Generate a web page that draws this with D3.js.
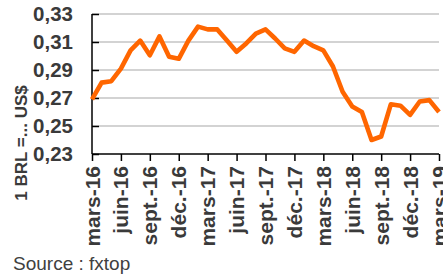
<!DOCTYPE html>
<html><head><meta charset="utf-8">
<script src="https://cdn.jsdelivr.net/npm/d3@7"></script>
<style>body{margin:0;background:#fff}svg{display:block}</style>
</head><body>
<svg id="c" width="443" height="276"></svg>
<script>
const months = ["mars-16","avr.-16","mai-16","juin-16","juil.-16","août-16","sept.-16","oct.-16","nov.-16","déc.-16","janv.-17","févr.-17",
"mars-17","avr.-17","mai-17","juin-17","juil.-17","août-17","sept.-17","oct.-17","nov.-17","déc.-17","janv.-18","févr.-18",
"mars-18","avr.-18","mai-18","juin-18","juil.-18","août-18","sept.-18","oct.-18","nov.-18","déc.-18","janv.-19","févr.-19","mars-19"];
const rate = [0.269,0.281,0.282,0.291,0.304,0.311,0.3005,0.314,0.2995,0.298,0.311,0.321,
0.319,0.319,0.311,0.303,0.309,0.316,0.319,0.3125,0.3055,0.303,0.311,0.307,
0.304,0.2925,0.2745,0.264,0.260,0.240,0.2425,0.2655,0.2645,0.258,0.2675,0.2685,0.260];
const yTicks = [0.23,0.25,0.27,0.29,0.31,0.33];
const shownLabels = months.filter((d,i)=>i%3===0);

const svg = d3.select("#c");
const L=92, R=439, T=14, B=154;
const x = d3.scalePoint().domain(months).range([L,R]);
const y = d3.scaleLinear().domain([0.23,0.33]).range([B,T]);
const txt="#3a3a3a";
const fmt = d=>d3.format(".2f")(d).replace(".",",");

// gridlines
svg.append("g").selectAll("line").data(yTicks.slice(1)).join("line")
  .attr("x1",L).attr("x2",R).attr("y1",d=>y(d)).attr("y2",d=>y(d))
  .attr("stroke","#c4c4c4").attr("stroke-width",1.6);

// y axis
const ya = svg.append("g").attr("transform",`translate(${L},0)`)
  .call(d3.axisRight(y).tickValues(yTicks).tickSize(7).tickFormat(""));
ya.select(".domain").remove();
ya.selectAll("line").attr("stroke","#000").attr("stroke-width",1.5);
svg.append("line").attr("x1",L).attr("x2",L).attr("y1",T).attr("y2",B).attr("stroke","#000").attr("stroke-width",1.5);
svg.append("g").selectAll("text").data(yTicks).join("text")
  .attr("x",73).attr("y",d=>y(d)).attr("dy","0.36em").attr("text-anchor","end")
  .attr("font-family","Liberation Sans, Arial, sans-serif").attr("font-weight","bold").attr("font-size",20.5)
  .attr("fill",txt).text(fmt);

// x axis
const xa = svg.append("g").attr("transform",`translate(0,${B})`)
  .call(d3.axisBottom(x).tickValues(shownLabels).tickSize(7).tickFormat(""));
xa.select(".domain").remove();
xa.selectAll("line").attr("stroke","#000").attr("stroke-width",1.5);
svg.append("line").attr("x1",L).attr("x2",R).attr("y1",B).attr("y2",B).attr("stroke","#000").attr("stroke-width",1.5);
svg.append("g").selectAll("text").data(shownLabels).join("text")
  .attr("transform",d=>`translate(${x(d)},166) rotate(-90)`)
  .attr("dy","0.36em").attr("text-anchor","end")
  .attr("font-family","Liberation Sans, Arial, sans-serif").attr("font-weight","bold").attr("font-size",21)
  .attr("fill",txt).text(d=>d);

// line
svg.append("path").datum(rate)
  .attr("d",d3.line().x((d,i)=>x(months[i])).y(d=>y(d)))
  .attr("fill","none").attr("stroke","#ff6600").attr("stroke-width",4.6)
  .attr("stroke-linejoin","round").attr("stroke-linecap","butt");

// y title
svg.append("text").attr("transform","translate(21,143) rotate(-90)")
  .attr("dy","0.36em").attr("text-anchor","middle")
  .attr("font-family","Liberation Sans, Arial, sans-serif").attr("font-weight","bold").attr("font-size",17)
  .attr("fill",txt).text("1 BRL =... US$");

// source
svg.append("text").attr("x",13).attr("y",270)
  .attr("font-family","Liberation Sans, Arial, sans-serif").attr("font-size",19)
  .attr("fill","#404040").text("Source : fxtop");
</script>
</body></html>
